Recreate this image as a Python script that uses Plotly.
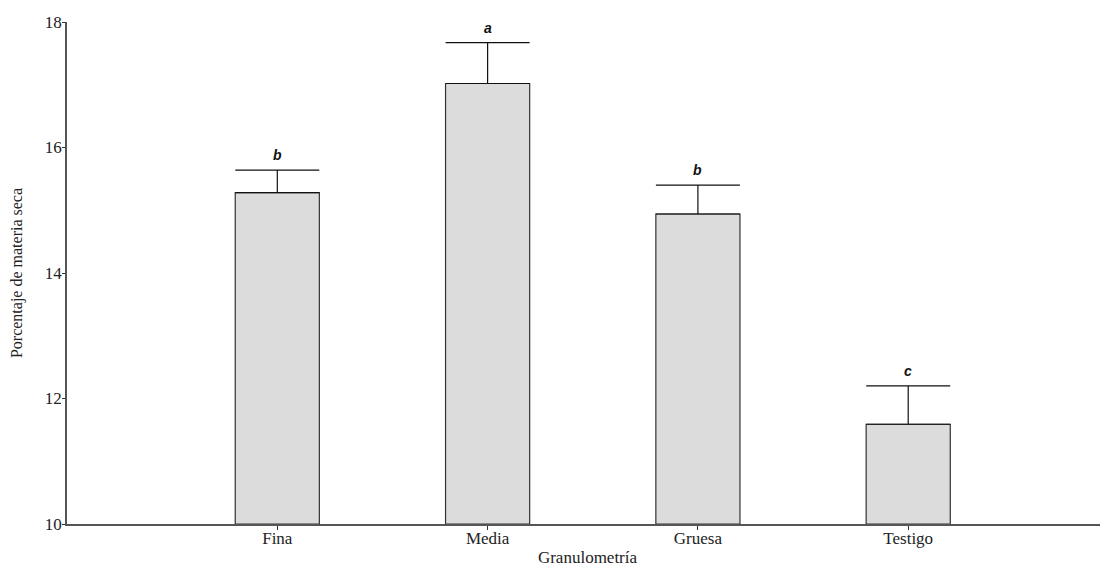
import plotly.graph_objects as go

categories = ["Fina", "Media", "Gruesa", "Testigo"]
means = [15.28, 17.02, 14.94, 11.59]
errors = [0.36, 0.65, 0.46, 0.61]
letters = ["b", "a", "b", "c"]
y_ticks = [10, 12, 14, 16, 18]

serif = "Liberation Serif"
xpos = list(range(len(categories)))

fig = go.Figure()
fig.add_trace(go.Bar(
    x=xpos, y=[m - 10 for m in means], base=10,
    width=0.4,
    marker=dict(color="#dcdcdc", line=dict(color="#333333", width=1.2)),
    error_y=dict(type="data", array=errors, arrayminus=[0]*len(errors), symmetric=False,
                 color="#111111", thickness=1.2, width=42),
    showlegend=False, hoverinfo="skip",
))

for x, m, e, l in zip(xpos, means, errors, letters):
    fig.add_annotation(x=x, y=m + e, text=f"<b><i>{l}</i></b>", showarrow=False,
                       yshift=15, font=dict(family="Liberation Sans", size=14, color="#111111"))

fig.update_layout(
    width=1100, height=559,
    margin=dict(l=59, r=0, t=14, b=43, autoexpand=False),
    plot_bgcolor="white", paper_bgcolor="white",
    font=dict(family=serif, size=17, color="#222222"),
    bargap=0.6,
)
fig.update_xaxes(
    range=[-1.0, 3.95], tickmode="array", tickvals=xpos, ticktext=categories,
    showline=True, linecolor="#555555", linewidth=1.5, ticks="outside", ticklen=4,
    tickcolor="#333333", showgrid=False, zeroline=False, automargin=False,
    tickfont=dict(family=serif, size=17), ticklabelstandoff=-6,
    title=dict(text="Granulometría", font=dict(family=serif, size=17), standoff=8),
)
fig.update_yaxes(
    range=[10, 18], tickmode="array", tickvals=y_ticks,
    showline=True, linecolor="#555555", linewidth=1.5, ticks="outside", ticklen=3,
    tickcolor="#333333", showgrid=False, zeroline=False, automargin=False,
    tickfont=dict(family=serif, size=17), ticklabelstandoff=-3,
    title=dict(text="Porcentaje de materia seca", font=dict(family=serif, size=16), standoff=23),
)

fig.write_html("out.html")
